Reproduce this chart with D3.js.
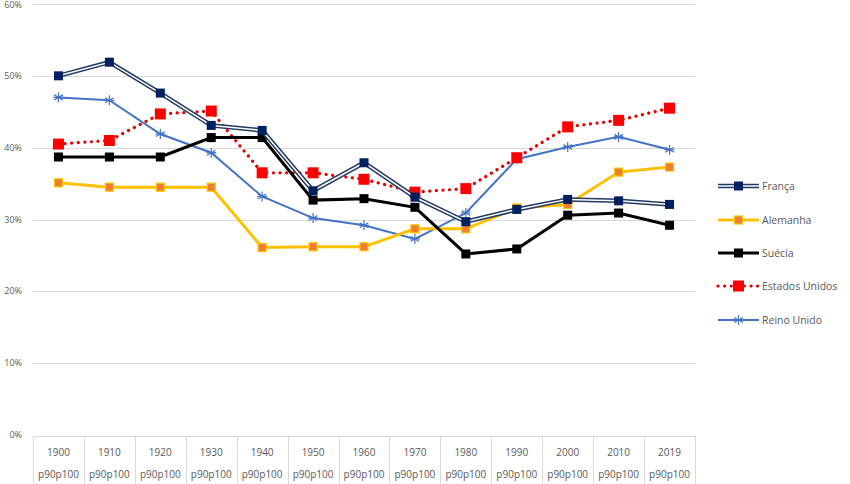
<!DOCTYPE html>
<html>
<head>
<meta charset="utf-8">
<script src="https://cdn.jsdelivr.net/npm/d3@7"></script>
<style>
  body { margin: 0; background: #fff; }
  text { font-family: "Open Sans", sans-serif; fill: #595959; }
</style>
</head>
<body>
<script>
var width = 850, height = 484;

var years = ["1900", "1910", "1920", "1930", "1940", "1950", "1960", "1970", "1980", "1990", "2000", "2010", "2019"];
var subLabel = "p90p100";
var yTicks = [0, 10, 20, 30, 40, 50, 60];

var franca = [50.0, 51.9, 47.6, 43.1, 42.4, 34.0, 37.9, 33.1, 29.7, 31.4, 32.8, 32.6, 32.1];
var alemanha = [35.1, 34.5, 34.5, 34.5, 26.1, 26.2, 26.2, 28.7, 28.7, 31.6, 32.1, 36.6, 37.3];
var suecia = [38.7, 38.7, 38.7, 41.4, 41.4, 32.7, 32.9, 31.7, 25.2, 25.9, 30.6, 30.9, 29.2];
var eua = [40.5, 41.0, 44.7, 45.1, 36.5, 36.5, 35.6, 33.8, 34.3, 38.6, 42.9, 43.8, 45.5];
var reinoUnido = [47.0, 46.6, 41.9, 39.3, 33.2, 30.2, 29.2, 27.3, 30.9, 38.4, 40.1, 41.5, 39.7];

var series = [
  {name: "França", values: franca, kind: "fr"},
  {name: "Alemanha", values: alemanha, kind: "de"},
  {name: "Suécia", values: suecia, kind: "se"},
  {name: "Estados Unidos", values: eua, kind: "us"},
  {name: "Reino Unido", values: reinoUnido, kind: "uk"}
];

var plotLeft = 33, plotRight = 695, plotTop = 4, plotBottom = 435;

var svg = d3.select("body").append("svg")
  .attr("width", width).attr("height", height);

var x = d3.scaleBand().domain(years).range([plotLeft, plotRight]);
var y = d3.scaleLinear().domain([0, 60]).range([plotBottom, plotTop]);

// gridlines
svg.append("g").selectAll("line")
  .data(yTicks.filter(function(d) { return d > 0; }))
  .enter().append("line")
  .attr("x1", plotLeft).attr("x2", plotRight)
  .attr("y1", function(d) { return Math.round(y(d)) + 0.5; })
  .attr("y2", function(d) { return Math.round(y(d)) + 0.5; })
  .attr("stroke", "#d9d9d9").attr("stroke-width", 1);

svg.append("g").selectAll("text")
  .data(yTicks)
  .enter().append("text")
  .attr("x", 22).attr("y", function(d) { return Math.max(y(d) + 3, 8); })
  .attr("text-anchor", "end")
  .attr("font-size", "9px")
  .text(function(d) { return d + "%"; });

// category table
var tbl = svg.append("g");
tbl.append("line").attr("x1", plotLeft).attr("x2", plotRight)
  .attr("y1", 436.5).attr("y2", 436.5).attr("stroke", "#d9d9d9");
var edges = years.map(function(d) { return x(d); }).concat([plotRight]);
tbl.selectAll("line.v").data(edges).enter().append("line")
  .attr("class", "v")
  .attr("x1", function(d) { return Math.round(d) + 0.5; })
  .attr("x2", function(d) { return Math.round(d) + 0.5; })
  .attr("y1", 436).attr("y2", height)
  .attr("stroke", "#d9d9d9");
tbl.selectAll("text.yr").data(years).enter().append("text")
  .attr("class", "yr")
  .attr("x", function(d) { return x(d) + x.bandwidth() / 2; })
  .attr("y", 456).attr("text-anchor", "middle")
  .attr("font-size", "10px")
  .text(function(d) { return d; });
tbl.selectAll("text.sub").data(years).enter().append("text")
  .attr("class", "sub")
  .attr("x", function(d) { return x(d) + x.bandwidth() / 2; })
  .attr("y", 478).attr("text-anchor", "middle")
  .attr("font-size", "10px")
  .text(subLabel);

function cx(i) { return x(years[i]) + x.bandwidth() / 2; }

var line = d3.line()
  .x(function(d, i) { return cx(i); })
  .y(function(d) { return y(d); });

function drawLine(g, kind, d) {
  if (kind === "fr") {
    g.append("path").attr("d", d).attr("fill", "none")
      .attr("stroke", "#1f3864").attr("stroke-width", 4.5);
    g.append("path").attr("d", d).attr("fill", "none")
      .attr("stroke", "#fff").attr("stroke-width", 1.5);
  } else if (kind === "de") {
    g.append("path").attr("d", d).attr("fill", "none")
      .attr("stroke", "#ffc000").attr("stroke-width", 3);
  } else if (kind === "se") {
    g.append("path").attr("d", d).attr("fill", "none")
      .attr("stroke", "#000").attr("stroke-width", 3);
  } else if (kind === "us") {
    g.append("path").attr("d", d).attr("fill", "none")
      .attr("stroke", "#e00000").attr("stroke-width", 3.2)
      .attr("stroke-linecap", "round")
      .attr("stroke-dasharray", "0.1,6.5");
  } else {
    g.append("path").attr("d", d).attr("fill", "none")
      .attr("stroke", "#4472c4").attr("stroke-width", 2);
  }
}

function drawMarker(g, kind, px, py) {
  if (kind === "fr") {
    g.append("rect").attr("x", px - 4.5).attr("y", py - 4.5)
      .attr("width", 9).attr("height", 9).attr("fill", "#002060");
  } else if (kind === "de") {
    g.append("rect").attr("x", px - 4).attr("y", py - 4)
      .attr("width", 8).attr("height", 8)
      .attr("fill", "#ed7d31").attr("stroke", "#ffc000").attr("stroke-width", 1.2);
  } else if (kind === "se") {
    g.append("rect").attr("x", px - 4.5).attr("y", py - 4.5)
      .attr("width", 9).attr("height", 9).attr("fill", "#000");
  } else if (kind === "us") {
    g.append("rect").attr("x", px - 5.5).attr("y", py - 5.5)
      .attr("width", 11).attr("height", 11).attr("fill", "#ff0000");
  } else {
    var r = 5;
    [0, 60, 120].forEach(function(a) {
      var rad = a * Math.PI / 180;
      g.append("line")
        .attr("x1", px - r * Math.sin(rad)).attr("y1", py - r * Math.cos(rad))
        .attr("x2", px + r * Math.sin(rad)).attr("y2", py + r * Math.cos(rad))
        .attr("stroke", "#4472c4").attr("stroke-width", 1.2);
    });
    g.append("line").attr("x1", px - r).attr("x2", px + r)
      .attr("y1", py).attr("y2", py)
      .attr("stroke", "#4472c4").attr("stroke-width", 1.2);
  }
}

// draw order: back to front
var order = ["uk", "us", "de", "se", "fr"];
order.forEach(function(k) {
  var s = series.filter(function(d) { return d.kind === k; })[0];
  var g = svg.append("g");
  drawLine(g, k, line(s.values));
  s.values.forEach(function(v, i) { drawMarker(g, k, cx(i), y(v)); });
});

// legend
var legY = [186, 220, 253, 286, 320];
series.forEach(function(s, i) {
  var g = svg.append("g");
  var ly = legY[i];
  drawLine(g, s.kind, "M718," + ly + "L759," + ly);
  drawMarker(g, s.kind, 738.5, ly);
  g.append("text").attr("x", 762).attr("y", ly + 4)
    .attr("font-size", "10.5px").text(s.name);
});
</script>
</body>
</html>
